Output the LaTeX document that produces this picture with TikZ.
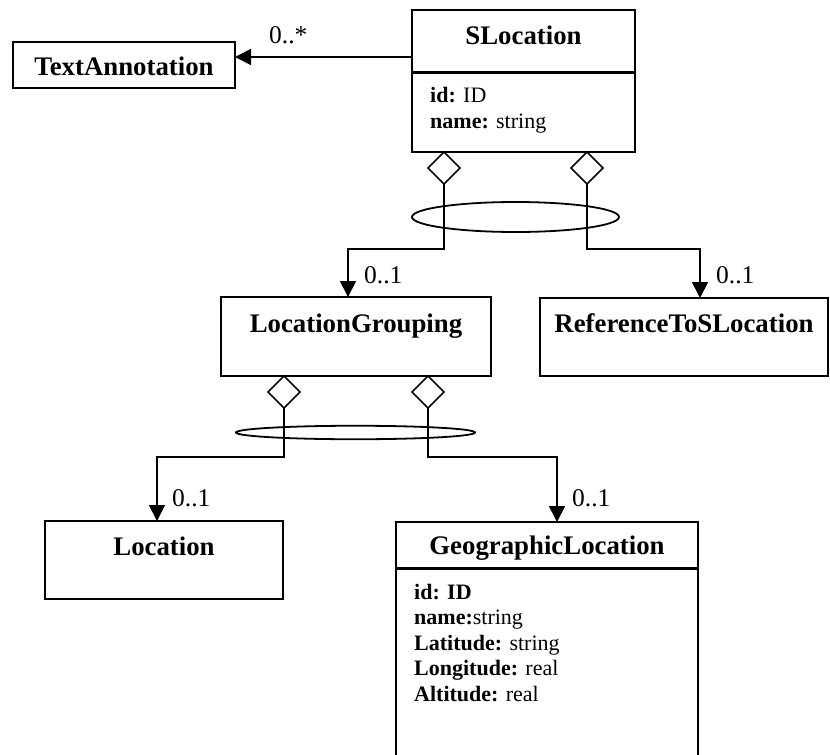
\documentclass[tikz,border=0pt]{standalone}
\usepackage{fontspec}
\setmainfont{Liberation Serif}
\usetikzlibrary{arrows.meta,shapes.geometric}
\begin{document}
\begin{tikzpicture}[x=1pt,y=-1pt,
  box/.style={draw,line width=1.8pt,rectangle,inner sep=0pt,outer sep=0pt},
  ghost/.style={draw=none,rectangle,inner sep=0pt,outer sep=0pt},
  dia/.style={draw,line width=1.6pt,diamond,fill=white,inner sep=0pt,outer sep=0pt,minimum width=32pt,minimum height=32pt},
  ell/.style={draw,line width=1.8pt,ellipse,inner sep=0pt,outer sep=0pt},
  conn/.style={line width=1.8pt,-{Triangle[length=16pt,width=16pt]}},
  divider/.style={line width=3pt},
  title/.style={font=\fontsize{26.8}{30}\selectfont\bfseries,inner sep=0pt,anchor=base},
  attr/.style={font=\fontsize{22}{25}\selectfont,inner sep=0pt,anchor=base west},
  mult/.style={font=\fontsize{25.5}{28}\selectfont,inner sep=0pt,anchor=base west}]
\useasboundingbox (0,0) rectangle (830,755);

% boxes
\node[box,minimum width=222pt,minimum height=46pt] (ta) at (124,65) {};
\node[box,minimum width=223pt,minimum height=142pt] (sl) at (523.5,81) {};
\node[box,minimum width=270pt,minimum height=79pt] (lg) at (356,336.5) {};
\node[box,minimum width=288pt,minimum height=78pt] (ref) at (684,337) {};
\node[box,minimum width=238pt,minimum height=78pt] (loc) at (164,560) {};
\node[ghost,minimum width=302pt,minimum height=233pt] (geo) at (547,638.5) {};
\draw[line width=1.8pt] (geo.south west) -- (geo.north west) -- (geo.north east) -- (geo.south east);

% dividers
\draw[divider] (sl.west |- 0,72) -- (sl.east |- 0,72);
\draw[divider] (geo.west |- 0,568) -- (geo.east |- 0,568);

% titles
\node[title] (tat) at (124,75) {TextAnnotation};
\node[title] (slt) at (523.5,44) {SLocation};
\node[title] (lgt) at (356,332) {LocationGrouping};
\node[title] (reft) at (684,332) {ReferenceToSLocation};
\node[title] (loct) at (164,555) {Location};
\node[title] (geot) at (547,554) {GeographicLocation};

% attributes
\node[attr] (sa1) at (430,102) {\textbf{id:} ID};
\node[attr] (sa2) at (430,128) {\textbf{name:} string};
\node[attr] (ga1) at (414,599) {\textbf{id: ID}};
\node[attr] (ga2) at (414,624.5) {\textbf{name:}string};
\node[attr] (ga3) at (414,650) {\textbf{Latitude:} string};
\node[attr] (ga4) at (414,675.5) {\textbf{Longitude:} real};
\node[attr] (ga5) at (414,701) {\textbf{Altitude:} real};

% ellipses
\node[ell,minimum width=207pt,minimum height=30pt] (e1) at (515.5,217) {};
\node[ell,minimum width=239pt,minimum height=13.5pt] (e2) at (355.5,432.5) {};

% connector junctions
\coordinate (j1) at (348,249);
\coordinate (j2) at (700,249);
\coordinate (j3) at (157,457);
\coordinate (j4) at (557,457);
\coordinate (a0) at (412,57);

% diamonds (drawn after lines below to sit on top)
\node[dia,anchor=north] (d1) at (444,152) {};
\node[dia,anchor=north] (d2) at (587,152) {};
\node[dia,anchor=north] (d3) at (284,376) {};
\node[dia,anchor=north] (d4) at (428,376) {};

% connectors
\draw[conn] (a0) -- (a0 -| ta.east);
\draw[conn] (d1.south) |- (j1) -- (j1 |- lg.north);
\draw[conn] (d2.south) |- (j2) -- (j2 |- ref.north);
\draw[conn] (d3.south) |- (j3) -- (j3 |- loc.north);
\draw[conn] (d4.south) |- (j4) -- (j4 |- geo.north);

% multiplicities
\node[mult] (m0) at (269,43) {0..*};
\node[mult] (m1) at (364,283) {0..1};
\node[mult] (m2) at (716,283) {0..1};
\node[mult] (m3) at (172,506) {0..1};
\node[mult] (m4) at (572,506) {0..1};
\end{tikzpicture}
\end{document}
